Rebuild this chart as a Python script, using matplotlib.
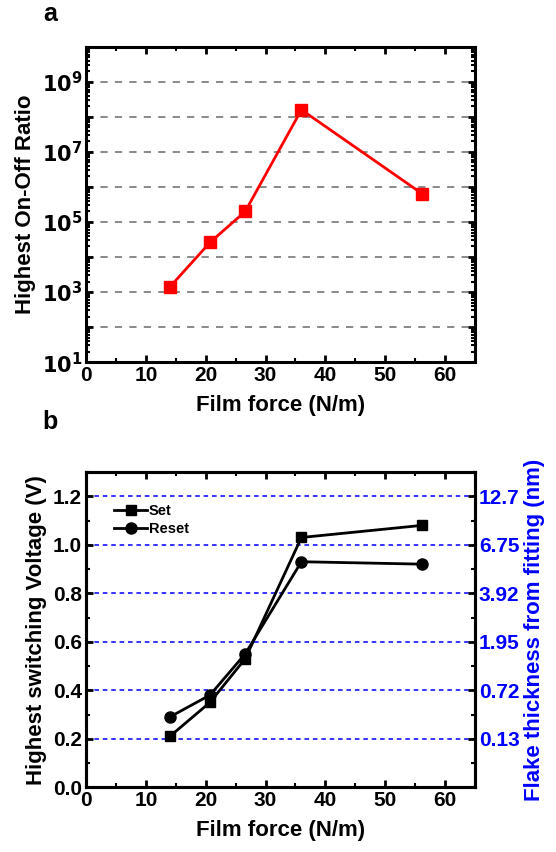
import matplotlib.pyplot as plt
import numpy as np
from matplotlib.ticker import LogLocator, MultipleLocator, FixedLocator, NullFormatter

plt.rcParams["font.family"] = ["Liberation Sans", "DejaVu Sans"]
plt.rcParams["font.weight"] = "bold"
plt.rcParams["axes.labelweight"] = "bold"
plt.rcParams["mathtext.default"] = "bf"

# data
force = [14, 20.7, 26.6, 36, 56.2]
on_off = [1.4e3, 2.6e4, 2.0e5, 1.6e8, 6.4e5]
v_set = [0.21, 0.35, 0.53, 1.03, 1.08]
v_reset = [0.29, 0.38, 0.55, 0.93, 0.92]
right_ticks = [0.2, 0.4, 0.6, 0.8, 1.0, 1.2]
right_labels = ["0.13", "0.72", "1.95", "3.92", "6.75", "12.7"]

fig = plt.figure(figsize=(5.56, 8.52), dpi=100)
ax1 = fig.add_axes([0.155, 0.575, 0.699, 0.370])
ax2 = fig.add_axes([0.155, 0.076, 0.699, 0.370])


def style_axes(ax):
    for s in ax.spines.values():
        s.set_linewidth(2.2)
    ax.tick_params(which="both", direction="in", top=True, right=True, labelsize=15, pad=3)
    ax.tick_params(which="major", length=5, width=2)
    ax.tick_params(which="minor", length=3, width=1.5)
    ax.set_xlim(0, 65)
    ax.xaxis.set_major_locator(MultipleLocator(10))
    ax.xaxis.set_minor_locator(MultipleLocator(5))
    ax.set_xlabel("Film force (N/m)", fontsize=16, labelpad=7)


# panel a
ax1.set_yscale("log")
ax1.set_ylim(10, 1e10)
for e in range(2, 10):
    ax1.axhline(10.0 ** e, color="gray", ls=(0, (4, 4)), lw=1.3, zorder=0)
ax1.plot(force, on_off, color="red", marker="s", ms=8, lw=2, zorder=3)
style_axes(ax1)
ax1.yaxis.set_major_locator(FixedLocator([10.0 ** e for e in range(1, 11)]))
ax1.yaxis.set_minor_locator(LogLocator(base=10, subs=np.arange(2, 10), numticks=20))
ax1.yaxis.set_minor_formatter(NullFormatter())
ax1.set_yticklabels(["$10^{%d}$" % e if e % 2 == 1 else "" for e in range(1, 11)])
ax1.set_ylabel("Highest On-Off Ratio", fontsize=16, labelpad=4)
fig.text(0.077, 0.975, "a", fontsize=18, fontweight="bold", va="baseline")

# panel b
ax2.set_ylim(0, 1.3)
for y in right_ticks:
    ax2.axhline(y, color="blue", ls=(0, (3, 2.5)), lw=1.1, zorder=0)
ax2.plot(force, v_set, color="black", marker="s", ms=7.5, lw=2, label="Set", zorder=3)
ax2.plot(force, v_reset, color="black", marker="o", ms=8, lw=2, label="Reset", zorder=3)
style_axes(ax2)
ax2.yaxis.set_major_locator(MultipleLocator(0.2))
ax2.yaxis.set_minor_locator(MultipleLocator(0.1))
ax2.yaxis.set_major_formatter(plt.FormatStrFormatter("%.1f"))
ax2.tick_params(right=False, which="both")
ax2.set_ylabel("Highest switching Voltage (V)", fontsize=16, labelpad=4)
ax2.legend(loc="upper left", bbox_to_anchor=(0.045, 0.93), frameon=False,
           handlelength=2.3, handletextpad=0.1, labelspacing=0.25, borderpad=0.2,
           prop={"weight": "bold", "size": 10.5})

ax3 = ax2.twinx()
ax3.set_ylim(0, 1.3)
ax3.yaxis.set_major_locator(FixedLocator(right_ticks))
ax3.set_yticklabels(right_labels)
ax3.yaxis.set_minor_locator(MultipleLocator(0.1))
ax3.tick_params(which="both", direction="in", labelsize=15, labelcolor="blue", pad=3)
ax3.tick_params(which="major", length=5, width=2)
ax3.tick_params(which="minor", length=3, width=1.5)
ax3.set_ylabel("Flake thickness from fitting (nm)", fontsize=16, color="blue", labelpad=3)
for s in ax3.spines.values():
    s.set_linewidth(2.2)
fig.text(0.077, 0.4965, "b", fontsize=18, fontweight="bold", va="baseline")

fig.savefig("out.png", dpi=100)
